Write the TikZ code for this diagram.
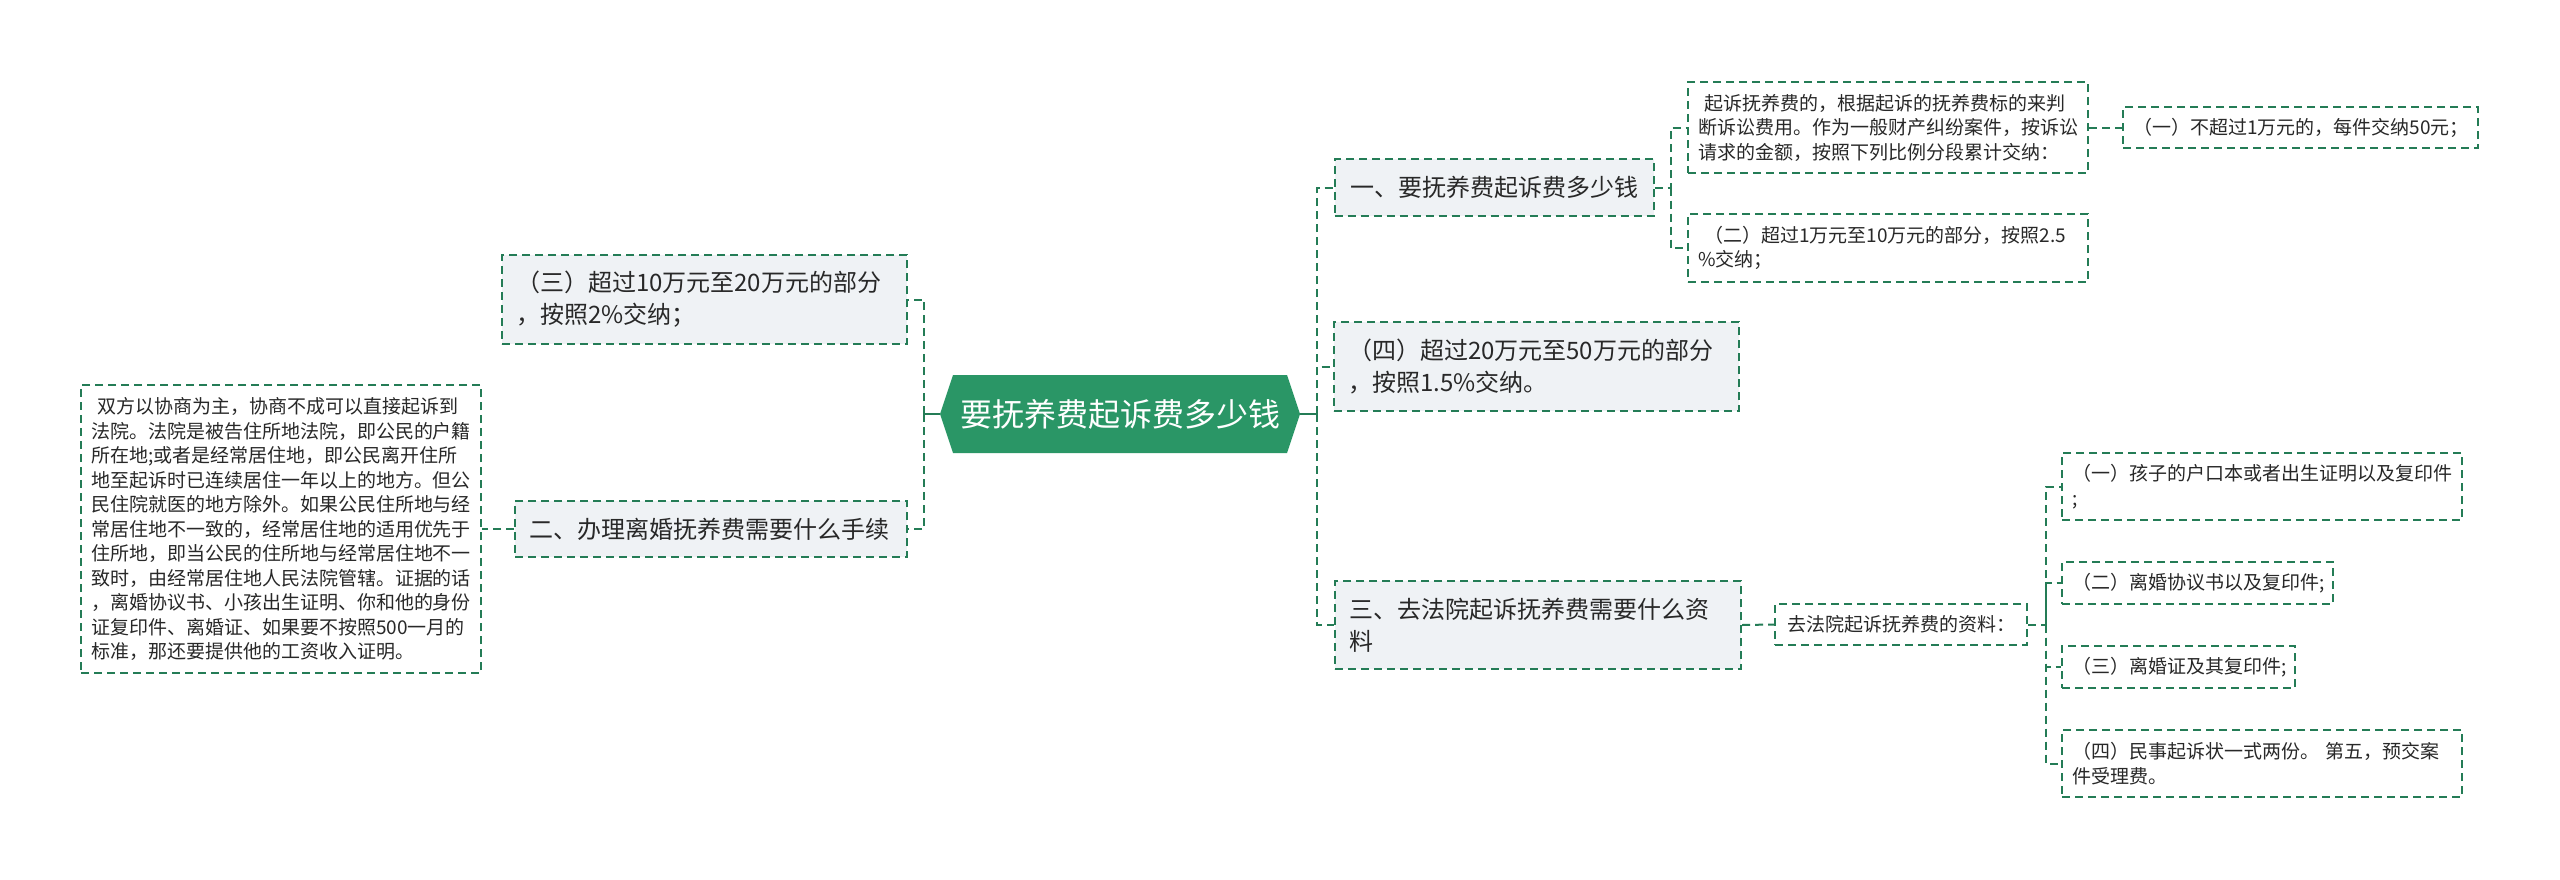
\documentclass[tikz,border=0pt]{standalone}
\usepackage{fontspec}
\setmainfont{Noto Sans CJK SC}
\definecolor{moss}{RGB}{42,150,102}
\definecolor{vine}{RGB}{36,124,86}
\definecolor{mist}{RGB}{239,242,245}
\definecolor{ink}{RGB}{40,40,40}
\tikzset{
  link/.style={draw=vine,line width=2pt,dash pattern=on 8pt off 5pt},
  stub/.style={draw=vine,line width=2pt},
  topic/.style={draw=vine,line width=2pt,dash pattern=on 8pt off 5pt,fill=mist,text=ink,
    font=\fontsize{24}{32}\selectfont,inner xsep=14pt,inner ysep=0pt,align=left},
  leaf/.style={draw=vine,line width=2pt,dash pattern=on 8pt off 5pt,fill=white,text=ink,
    font=\fontsize{19}{24.5}\selectfont,inner xsep=10pt,inner ysep=0pt,align=left},
  % hexagon for the central topic
  hexroot/.style={fill=white,text=white,font=\fontsize{32}{38}\selectfont,
    minimum width=360pt,minimum height=78pt,inner sep=0pt,
    path picture={\fill[moss] (path picture bounding box.west)
      -- ([xshift=13pt]path picture bounding box.north west)
      -- ([xshift=-13pt]path picture bounding box.north east)
      -- (path picture bounding box.east)
      -- ([xshift=-13pt]path picture bounding box.south east)
      -- ([xshift=13pt]path picture bounding box.south west) -- cycle;}},
}
\begin{document}
\begin{tikzpicture}[x=1pt,y=-1pt]
        \fill[white] (0,0) rectangle (2560,879);
        \useasboundingbox (0,0) rectangle (2560,879);
        \node[hexroot] (root) at (1120,414) {要抚养费起诉费多少钱};
        \coordinate (rt) at (1317,414); \coordinate (lt) at (924,414);
        \node[topic,text width=291pt,minimum height=57pt,align=center] (n1) at (1494,187.5) {一、要抚养费起诉费多少钱};
        \node[topic,text width=377pt,minimum height=89pt] (n4) at (1536.5,366.5) {（四）超过20万元至50万元的部分\\，按照1.5\%交纳。};
        \node[topic,text width=378pt,minimum height=88pt] (n3) at (1538,625) {三、去法院起诉抚养费需要什么资\\料};
        \node[leaf,text width=380pt,minimum height=91pt] (a) at (1888,127.5) {\ 起诉抚养费的，根据起诉的抚养费标的来判\\断诉讼费用。作为一般财产纠纷案件，按诉讼\\请求的金额，按照下列比例分段累计交纳：};
        \node[leaf,text width=380pt,minimum height=68pt] (b) at (1888,248) {\ （二）超过1万元至10万元的部分，按照2.5\\\%交纳；};
        \node[leaf,text width=335pt,minimum height=41pt] (c) at (2300.5,127.5) {（一）不超过1万元的，每件交纳50元；};
        \node[leaf,text width=232pt,minimum height=41pt,align=center] (d) at (1901,624.5) {去法院起诉抚养费的资料：};
        \node[leaf,text width=380pt,minimum height=67pt] (e1) at (2262,486.5) {（一）孩子的户口本或者出生证明以及复印件\\;};
        \node[leaf,text width=251pt,minimum height=42pt] (e2) at (2197.5,583) {（二）离婚协议书以及复印件;};
        \node[leaf,text width=213pt,minimum height=42pt] (e3) at (2178.5,667) {（三）离婚证及其复印件;};
        \node[leaf,text width=380pt,minimum height=67pt] (e4) at (2262,763.5) {（四）民事起诉状一式两份。 第五，预交案\\件受理费。};
        \node[topic,text width=377pt,minimum height=89pt] (l1) at (704.5,299.5) {（三）超过10万元至20万元的部分\\，按照2\%交纳；};
        \node[topic,text width=364pt,minimum height=56pt] (l2) at (711,529) {二、办理离婚抚养费需要什么手续};
        \node[leaf,text width=380pt,minimum height=288pt] (l3) at (281,529) {\ 双方以协商为主，协商不成可以直接起诉到\\法院。法院是被告住所地法院，即公民的户籍\\所在地;或者是经常居住地，即公民离开住所\\地至起诉时已连续居住一年以上的地方。但公\\民住院就医的地方除外。如果公民住所地与经\\常居住地不一致的，经常居住地的适用优先于\\住所地，即当公民的住所地与经常居住地不一\\致时，由经常居住地人民法院管辖。证据的话\\，离婚协议书、小孩出生证明、你和他的身份\\证复印件、离婚证、如果要不按照500一月的\\标准，那还要提供他的工资收入证明。};
        \draw[stub] (root.east) -- (rt); \draw[stub] (root.west) -- (lt);
        \draw[link] (rt) |- (n1.west); \draw[link] (rt) |- (n4.west); \draw[link] (rt) |- (n3.west);
        \draw[link] (n1.east) -- ++(16,0) coordinate (j1) |- (a.west); \draw[link] (j1) |- (b.west);
        \draw[link] (a.east) -- (c.west);
        \draw[link] (n3.east) -- (d.west);
        \draw[link] (d.east) -- ++(18,0) coordinate (j3) |- (e1.west);
        \draw[link] (j3) |- (e2.west); \draw[link] (j3) |- (e3.west); \draw[link] (j3) |- (e4.west);
        \draw[link] (lt) |- (l1.east); \draw[link] (lt) |- (l2.east);
        \draw[link] (l2.west) -- (l3.east);
      \end{tikzpicture}
\end{document}
